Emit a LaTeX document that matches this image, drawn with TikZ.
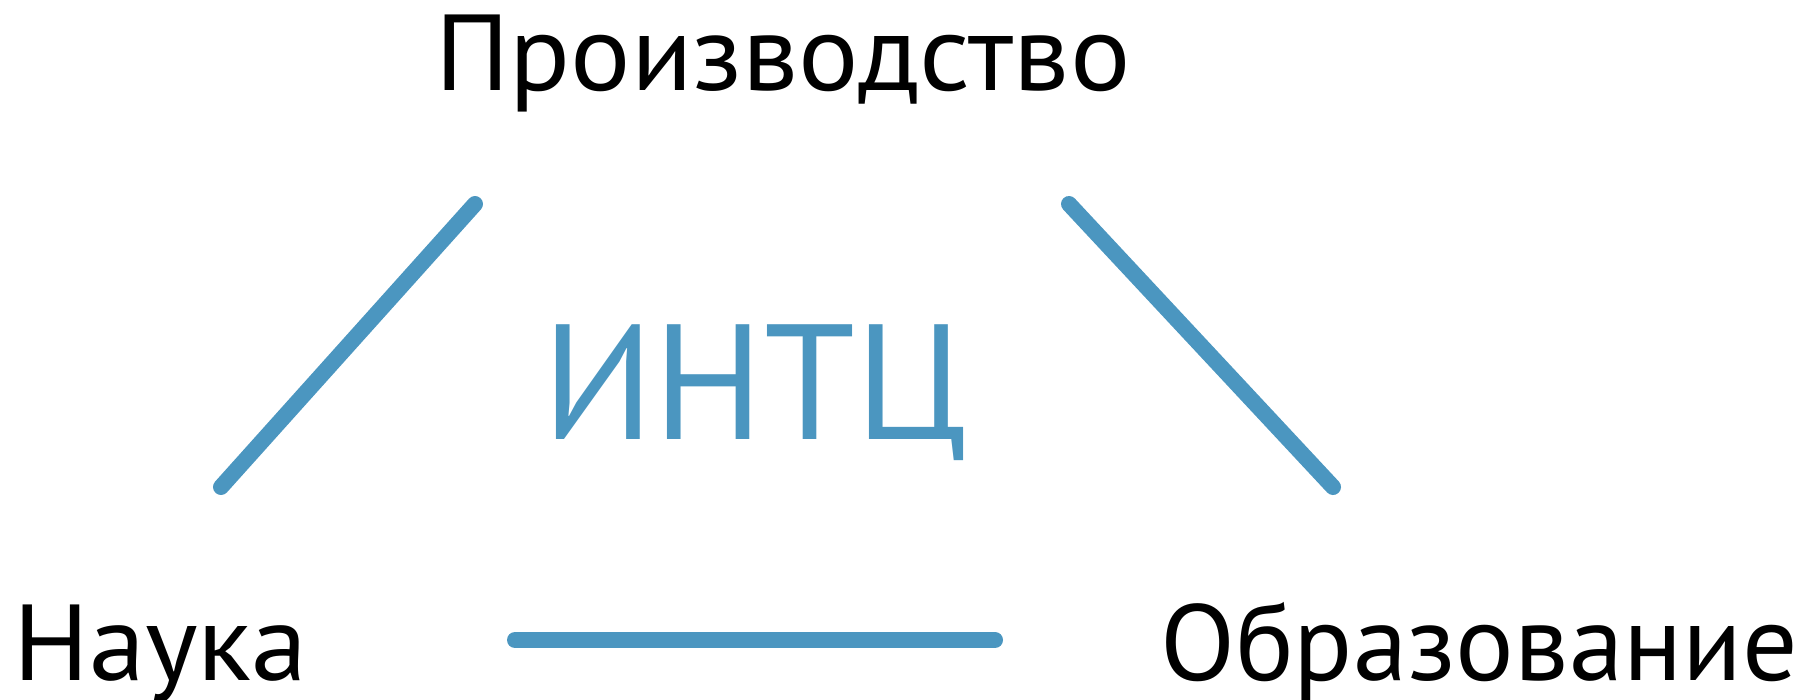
\documentclass[tikz,border=0pt]{standalone}
\usepackage{fontspec}
\setmainfont{PT Sans}[FakeStretch=1.045]
\newfontfamily\intcfont{PT Sans}
\newfontfamily\obrfont{PT Sans}[FakeStretch=1.015]
\definecolor{linkblue}{HTML}{4B96C0}
\begin{document}
\begin{tikzpicture}[x=1pt,y=-1pt,
  label/.style={inner sep=0pt,anchor=base west,font=\fontsize{108}{120}\selectfont},
  link/.style={draw=linkblue,line width=16pt,line cap=round}]
\useasboundingbox (0,0) rectangle (1806,699);
\node[label] (prod) at (435,90) {Производство};
\node[label] (nauka) at (13,680) {Наука};
\node[label,font=\obrfont\fontsize{108}{120}\selectfont] (obr) at (1160,680) {Образование};
\node[inner sep=0pt,anchor=base west,text=linkblue,font=\intcfont\fontsize{164}{180}\selectfont] (intc) at (542,439) {ИНТЦ};
\coordinate (a1) at (221,487);
\coordinate (a2) at (475,204);
\coordinate (b1) at (1069,204);
\coordinate (b2) at (1333,487);
\coordinate (c1) at (515,640);
\coordinate (c2) at (995,640);
\draw[link] (a1) -- (a2);
\draw[link] (b1) -- (b2);
\draw[link] (c1) -- (c2);
\end{tikzpicture}
\end{document}
